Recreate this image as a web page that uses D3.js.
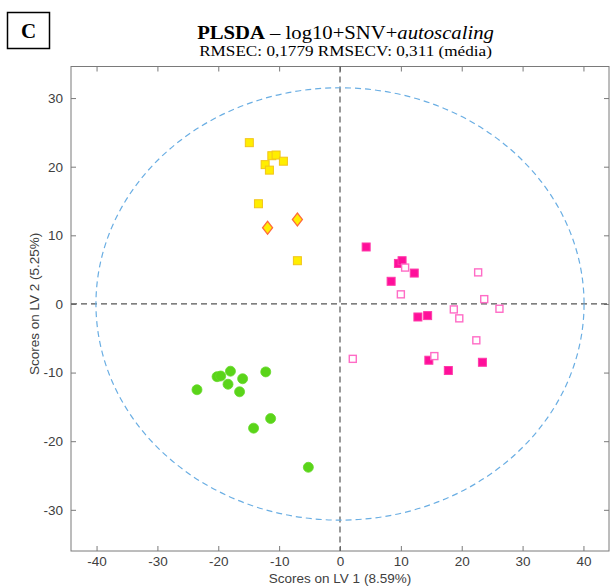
<!DOCTYPE html>
<html>
<head>
<meta charset="utf-8">
<script src="https://cdn.jsdelivr.net/npm/d3@7"></script>
<style>
  body { margin: 0; background: #fff; }
  svg { display: block; }
</style>
</head>
<body>
<svg id="chart" width="611" height="587"></svg>
<script>
// scores (LV1, LV2)
const yellowSq = [[-14.9, 23.5], [-11.2, 21.6], [-10.5, 21.7], [-9.3, 20.8], [-12.3, 20.3],
  [-11.6, 19.5], [-13.4, 14.6], [-7.0, 6.3]];
const yellowDiamond = [[-7.0, 12.3], [-11.9, 11.1]];
const pinkFilled = [[4.3, 8.3], [9.6, 5.9], [10.2, 6.3], [12.2, 4.5], [8.4, 3.3], [12.8, -1.9],
  [14.4, -1.7], [14.6, -8.2], [17.8, -9.7], [23.4, -8.5]];
const pinkOpen = [[10.7, 5.3], [10.0, 1.4], [22.7, 4.6], [23.7, 0.7], [26.2, -0.7], [18.7, -0.8],
  [19.6, -2.1], [22.4, -5.3], [15.5, -7.6], [2.1, -8.0]];
const greenCircles = [[-23.5, -12.5], [-20.2, -10.6], [-19.6, -10.5], [-18.0, -9.8], [-18.4, -11.7],
  [-16.0, -10.9], [-16.5, -12.8], [-12.2, -9.9], [-11.4, -16.7], [-14.2, -18.1], [-5.2, -23.8]];
const xTicks = [-40, -30, -20, -10, 0, 10, 20, 30, 40];
const yTicks = [-30, -20, -10, 0, 10, 20, 30];
const ellipse = { cx: 0, cy: 0, rx: 40.1, ry: 31.5 };

const svg = d3.select("#chart");
const pLeft = 71, pRight = 609, pTop = 66.5, pBottom = 551;

let x = d3.scaleLinear().domain([-44.2, 44.2]).range([pLeft, pRight]);
let y = d3.scaleLinear().domain([-36.0, 34.6]).range([pBottom, pTop]);

const axisCol = "#7a7a7a", textCol = "#404040";

// the pasted figure is a bit stretched sideways, so squeeze text to the width seen
function fitWidth(sel, cx, base, width)
{
  let w = sel.node().getComputedTextLength();
  sel.attr("transform", "translate(" + cx + "," + base + ") scale(" + (width / w) + ",1)");
}

// panel letter box
svg.append("rect").attr("x", 7.5).attr("y", 12.5).attr("width", 42).attr("height", 36)
  .style("fill", "none").style("stroke", "#000").style("stroke-width", 1.5);
svg.append("text").attr("x", 28.5).attr("y", 38).attr("text-anchor", "middle")
  .style("font-family", "Liberation Serif").style("font-weight", "bold").style("font-size", "21px")
  .text("C");

// title
let title = svg.append("text").attr("text-anchor", "middle")
  .style("font-family", "Liberation Serif").style("font-size", "18px").style("fill", "#000");
title.append("tspan").style("font-weight", "bold").text("PLSDA");
title.append("tspan").text(" \u2013 log10+SNV+");
title.append("tspan").style("font-style", "italic").text("autoscaling");
fitWidth(title, 345.5, 39, 297);
let subtitle = svg.append("text").attr("text-anchor", "middle")
  .style("font-family", "Liberation Serif").style("font-size", "14px").style("fill", "#000")
  .text("RMSEC: 0,1779 RMSECV: 0,311 (média)");
fitWidth(subtitle, 345.5, 55.5, 293);

// axes box with ticks on all sides (plain hyphen for negatives, like matlab)
let fmt = d => String(d);
let gx = svg.append("g").attr("transform", "translate(0," + pBottom + ")")
  .call(d3.axisBottom(x).tickValues(xTicks).tickSize(-5).tickPadding(5).tickFormat(fmt));
let gxt = svg.append("g").attr("transform", "translate(0," + pTop + ")")
  .call(d3.axisTop(x).tickValues(xTicks).tickSize(-5).tickFormat(""));
let gy = svg.append("g").attr("transform", "translate(" + pLeft + ",0)")
  .call(d3.axisLeft(y).tickValues(yTicks).tickSize(-5).tickPadding(8).tickFormat(fmt));
let gyr = svg.append("g").attr("transform", "translate(" + pRight + ",0)")
  .call(d3.axisRight(y).tickValues(yTicks).tickSize(-5).tickFormat(""));
[gx, gxt, gy, gyr].forEach(function (g)
{
  g.select(".domain").remove();
  g.selectAll("line").style("stroke", axisCol);
  g.selectAll("text").style("fill", textCol).style("font-family", "Liberation Sans").style("font-size", "13.5px");
});
svg.append("rect").attr("x", pLeft).attr("y", pTop).attr("width", pRight - pLeft).attr("height", pBottom - pTop)
  .style("fill", "none").style("stroke", axisCol).style("stroke-width", 1);

// axis labels
svg.append("text").attr("x", x(0)).attr("y", 583).attr("text-anchor", "middle")
  .style("font-family", "Liberation Sans").style("font-size", "13.5px").style("fill", textCol)
  .text("Scores on LV 1 (8.59%)");
svg.append("text").attr("transform", "translate(39," + y(0) + ") rotate(-90)").attr("text-anchor", "middle")
  .style("font-family", "Liberation Sans").style("font-size", "13.5px").style("fill", textCol)
  .text("Scores on LV 2 (5.25%)");

// zero lines
svg.append("line").attr("x1", x(0)).attr("x2", x(0)).attr("y1", pTop).attr("y2", pBottom)
  .style("stroke", "#555").style("stroke-dasharray", "6,4").style("stroke-width", 1.2);
svg.append("line").attr("x1", pLeft).attr("x2", pRight).attr("y1", y(0)).attr("y2", y(0))
  .style("stroke", "#555").style("stroke-dasharray", "6,4").style("stroke-width", 1.2);

// confidence ellipse
svg.append("ellipse").attr("cx", x(ellipse.cx)).attr("cy", y(ellipse.cy))
  .attr("rx", x(ellipse.rx) - x(0)).attr("ry", y(0) - y(ellipse.ry))
  .style("fill", "none").style("stroke", "#6aaee3").style("stroke-width", 1.2)
  .style("stroke-dasharray", "6,4");

// markers
svg.selectAll(".ysq").data(yellowSq).enter().append("rect").attr("class", "ysq")
  .attr("x", d => x(d[0]) - 4).attr("y", d => y(d[1]) - 4).attr("width", 8).attr("height", 8)
  .style("fill", "#ffee00").style("stroke", "#f2c41a").style("stroke-width", 1);
svg.selectAll(".ydm").data(yellowDiamond).enter().append("path").attr("class", "ydm")
  .attr("d", d3.symbol().type(d3.symbolDiamond).size(60))
  .attr("transform", d => "translate(" + x(d[0]) + "," + y(d[1]) + ") scale(1.2,0.9)")
  .style("fill", "#ffee00").style("stroke", "#ff6a3a").style("stroke-width", 1.2);
svg.selectAll(".pf").data(pinkFilled).enter().append("rect").attr("class", "pf")
  .attr("x", d => x(d[0]) - 4).attr("y", d => y(d[1]) - 4).attr("width", 8).attr("height", 8)
  .style("fill", "#ff0f9a").style("stroke", "#ff3aa9").style("stroke-width", 1);
svg.selectAll(".po").data(pinkOpen).enter().append("rect").attr("class", "po")
  .attr("x", d => x(d[0]) - 3.5).attr("y", d => y(d[1]) - 3.5).attr("width", 7).attr("height", 7)
  .style("fill", "#fff").style("stroke", "#ff6cc6").style("stroke-width", 1.4);
svg.selectAll(".gc").data(greenCircles).enter().append("circle").attr("class", "gc")
  .attr("cx", d => x(d[0])).attr("cy", d => y(d[1])).attr("r", 5)
  .style("fill", "#5ad419").style("stroke", "#66d92a").style("stroke-width", 0.8);
</script>
</body>
</html>
